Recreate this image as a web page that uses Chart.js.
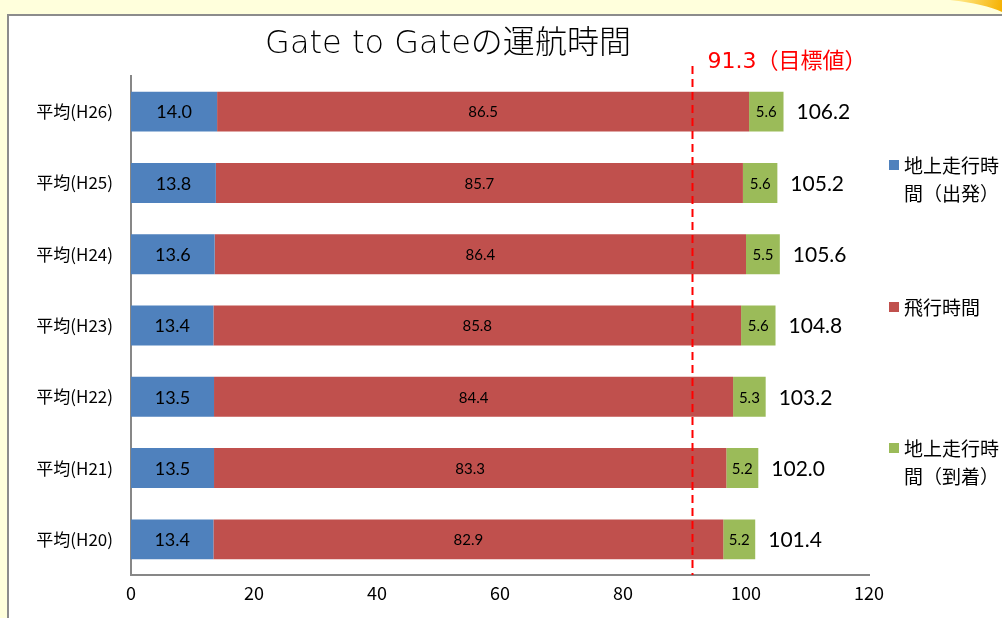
<!DOCTYPE html>
<html>
<head>
<meta charset="utf-8">
<script src="https://cdn.jsdelivr.net/npm/chart.js@4.4.1/dist/chart.umd.min.js"></script>
<style>
  html, body { margin: 0; padding: 0; background: #FFFFDC; }
  #wrap { width: 1002px; height: 618px; position: relative; }
</style>
</head>
<body>
<div id="wrap"><canvas id="chart"></canvas></div>
<script>
// Yearly averages, top row first
const categories = ['平均(H26)', '平均(H25)', '平均(H24)', '平均(H23)', '平均(H22)', '平均(H21)', '平均(H20)'];
const taxiOut = [14.0, 13.8, 13.6, 13.4, 13.5, 13.5, 13.4];   // 地上走行時間（出発）
const flight  = [86.5, 85.7, 86.4, 85.8, 84.4, 83.3, 82.9];   // 飛行時間
const taxiIn  = [5.6, 5.6, 5.5, 5.6, 5.3, 5.2, 5.2];          // 地上走行時間（到着）
const totals  = [106.2, 105.2, 105.6, 104.8, 103.2, 102.0, 101.4];
const seriesNames = ['地上走行時間（出発）', '飛行時間', '地上走行時間（到着）'];
const xTicks = [0, 20, 40, 60, 80, 100, 120];
const targetValue = 91.3;
const targetLabel = '（目標値）';
const titleText = 'Gate to Gateの運航時間';

const COLORS = ['#4F81BD', '#C0504D', '#9BBB59'];
const JP = '"Noto Sans CJK JP", "Noto Sans", sans-serif';
const WIDE = '"DejaVu Sans", "Noto Sans CJK JP", sans-serif';
const NUM = 'Lato, "Open Sans", sans-serif';

// cream page with the white framed panel behind the chart
const backdrop = {
  id: 'backdrop',
  beforeDraw(chart) {
    const ctx = chart.ctx;
    const W = chart.width, H = chart.height;
    ctx.save();
    ctx.fillStyle = '#FFFFDC';
    ctx.fillRect(0, 0, W, H);
    // orange corner accent
    const g = ctx.createLinearGradient(960, 0, 1002, 10);
    g.addColorStop(0, '#FFE680');
    g.addColorStop(1, '#F5B000');
    ctx.fillStyle = g;
    ctx.beginPath();
    ctx.moveTo(950, 0);
    ctx.quadraticCurveTo(985, 4, 1002, 12);
    ctx.lineTo(1002, 0);
    ctx.closePath();
    ctx.fill();
    ctx.fillStyle = '#FFFFFF';
    ctx.fillRect(7, 14, W - 7, H - 14);
    ctx.strokeStyle = '#8C8C8C';
    ctx.lineWidth = 2;
    ctx.beginPath();
    ctx.moveTo(8, H);
    ctx.lineTo(8, 15);
    ctx.lineTo(W, 15);
    ctx.stroke();
    ctx.restore();
  }
};

// title, value labels, target line and legend
const overlay = {
  id: 'overlay',
  afterDatasetsDraw(chart) {
    const ctx = chart.ctx;
    const area = chart.chartArea;
    const xs = chart.scales.x;
    ctx.save();

    // value labels inside each segment
    const segFonts = ['18px ' + NUM, '15px ' + NUM, '15px ' + NUM];
    chart.data.datasets.forEach((ds, di) => {
      const meta = chart.getDatasetMeta(di);
      ctx.font = segFonts[di];
      ctx.fillStyle = '#000';
      ctx.textAlign = 'center';
      ctx.textBaseline = 'middle';
      meta.data.forEach((bar, i) => {
        const cx = (bar.x + bar.base) / 2;
        ctx.fillText(ds.data[i].toFixed(1), cx, bar.y + 1);
      });
    });

    // totals right of each stack
    const last = chart.getDatasetMeta(chart.data.datasets.length - 1);
    ctx.font = '21px ' + NUM;
    ctx.textAlign = 'left';
    last.data.forEach((bar, i) => {
      ctx.fillText(totals[i].toFixed(1), bar.x + 13, bar.y + 1);
    });

    // target line
    const tx = Math.round(xs.getPixelForValue(targetValue)) + 0.5;
    ctx.strokeStyle = '#FF0000';
    ctx.lineWidth = 2;
    ctx.setLineDash([8, 5]);
    ctx.beginPath();
    ctx.moveTo(tx, area.top - 10);
    ctx.lineTo(tx, area.bottom);
    ctx.stroke();
    ctx.setLineDash([]);
    ctx.fillStyle = '#FF0000';
    ctx.font = '22px ' + WIDE;
    ctx.textAlign = 'left';
    ctx.textBaseline = 'middle';
    ctx.fillText(targetValue.toFixed(1) + targetLabel, tx + 15, 62);

    // title
    ctx.fillStyle = '#000';
    ctx.font = '300 32px ' + WIDE;
    ctx.textAlign = 'center';
    ctx.fillText(titleText, 448, 45);

    // legend on the right
    const legendY = [165, 307, 448];
    ctx.font = '19px ' + JP;
    ctx.textAlign = 'left';
    seriesNames.forEach((name, i) => {
      const y = legendY[i];
      ctx.fillStyle = COLORS[i];
      ctx.fillRect(889, y - 5, 10, 10);
      ctx.fillStyle = '#000';
      // wrap the name to the legend column
      const lines = [];
      let cur = '';
      for (const ch of name) {
        if (cur.length >= 5) { lines.push(cur); cur = ''; }
        cur += ch;
      }
      if (cur) lines.push(cur);
      lines.forEach((ln, k) => ctx.fillText(ln, 904, y + 1 + k * 28));
    });

    ctx.restore();
  }
};

const datasets = [taxiOut, flight, taxiIn].map((vals, i) => ({
  label: seriesNames[i],
  data: vals,
  backgroundColor: COLORS[i],
  borderWidth: 0,
  barPercentage: 0.56,
  categoryPercentage: 1.0
}));

new Chart(document.getElementById('chart'), {
  type: 'bar',
  data: { labels: categories, datasets },
  options: {
    indexAxis: 'y',
    responsive: true,
    maintainAspectRatio: false,
    animation: false,
    layout: { padding: { left: 0, top: 76, right: 133, bottom: 0 } },
    plugins: {
      legend: { display: false },
      title: { display: false },
      tooltip: { enabled: false }
    },
    scales: {
      x: {
        stacked: true,
        min: 0,
        max: 120,
        afterBuildTicks(scale) { scale.ticks = xTicks.map(v => ({ value: v })); },
        afterFit(scale) { scale.height = 43; },
        grid: { display: false, drawTicks: false },
        border: { display: true, color: '#878787', width: 2 },
        ticks: { color: '#000', font: { family: JP, size: 18 }, padding: 7, maxRotation: 0 }
      },
      y: {
        stacked: true,
        afterFit(scale) { scale.width = 131; },
        grid: { display: false, drawTicks: false },
        border: { display: true, color: '#878787', width: 2 },
        ticks: { color: '#000', font: { family: JP, size: 17 }, padding: 18 }
      }
    }
  },
  plugins: [backdrop, overlay]
});
</script>
</body>
</html>
